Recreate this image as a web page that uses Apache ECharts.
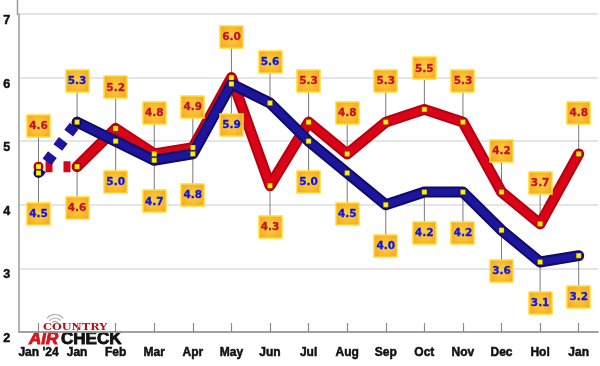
<!DOCTYPE html>
<html>
<head>
<meta charset="utf-8">
<script src="https://cdn.jsdelivr.net/npm/echarts@6/dist/echarts.min.js"></script>
<style>
html,body{margin:0;padding:0;background:#fff;}
#chart{width:600px;height:366px;}
</style>
</head>
<body>
<div id="chart"></div>
<script>
const categories = ["Jan '24","Jan","Feb","Mar","Apr","May","Jun","Jul","Aug","Sep","Oct","Nov","Dec","Hol","Jan"];
const redValues  = [4.6,4.6,5.2,4.8,4.9,6.0,4.3,5.3,4.8,5.3,5.5,5.3,4.2,3.7,4.8];
const blueValues = [4.5,5.3,5.0,4.7,4.8,5.9,5.6,5.0,4.5,4.0,4.2,4.2,3.6,3.1,3.2];
// label side: -1 above the point, 1 below
const redLabelSide  = [-1,1,-1,-1,-1,-1,1,-1,-1,-1,-1,-1,-1,-1,-1];
const blueLabelSide = [1,-1,1,1,1,1,-1,1,1,1,1,1,1,1,1];
const yMin = 2, yMax = 7, yStep = 1;

const RED = '#b6000f', RED_HI = '#d90418';
const BLUE = '#0e0b6c', BLUE_HI = '#1d169c';
const RED_TXT = '#c0122c', BLUE_TXT = '#0a16e8';
const LABEL_OFFSET = 41, BOX_W = 23, BOX_H = 22;

function labelData(values, sides){ return values.map((v,i)=>[i, v, sides[i]]); }
function firstSeg(values){ return values.map((v,i)=> i<=1 ? v : '-'); }
function restSeg(values){ return values.map((v,i)=> i===0 ? '-' : v); }

const boxFill = {type:'radial', x:0.5, y:0.5, r:0.72, colorStops:[
  {offset:0, color:'#fdd046'},{offset:0.5, color:'#fbbb2e'},{offset:1, color:'#f59c1a'}]};

function leaderRender(params, api){
  const p = api.coord([api.value(0), api.value(1)]);
  const s = api.value(2);
  const cy = p[1] + s*LABEL_OFFSET;
  return {type:'line', shape:{x1:p[0], y1:p[1], x2:p[0], y2:cy - s*BOX_H/2},
          style:{stroke:'#7a7a7a', lineWidth:1}};
}
function boxRenderer(color){
  return function(params, api){
    const v = api.value(1);
    const p = api.coord([api.value(0), v]);
    const s = api.value(2);
    const cy = p[1] + s*LABEL_OFFSET;
    return {type:'group', children:[
      {type:'rect', shape:{x:Math.round(p[0]-BOX_W/2), y:Math.round(cy-BOX_H/2), width:BOX_W, height:BOX_H},
       style:{fill:boxFill, stroke:'#ffdc34', lineWidth:1.5}},
      {type:'text', style:{text:v.toFixed(1), x:p[0], y:cy+0.5, align:'center', verticalAlign:'middle',
        fill:color, stroke:color, lineWidth:0.3, fontSize:10.5, fontWeight:'bold', fontFamily:'"DejaVu Sans", Verdana, sans-serif'}},
      {type:'rect', shape:{x:p[0]-2.5, y:p[1]-2.5, width:5, height:5},
       style:{fill:'#fff200', stroke:'rgba(90,70,0,0.45)', lineWidth:0.6}}
    ]};
  };
}

const tube = (color, w)=>({color:color, width:w, cap:'round', join:'round'});

const chart = echarts.init(document.getElementById('chart'), null, {renderer:'canvas'});
chart.setOption({
  animation:false,
  backgroundColor:'#fff',
  grid:{left:17, right:2, top:14, bottom:34, containLabel:false},
  xAxis:{type:'category', data:categories, boundaryGap:true,
    axisLine:{lineStyle:{color:'#8a8a8a', width:1.5}},
    axisTick:{show:true, inside:true, length:9, alignWithLabel:true, lineStyle:{color:'#8a8a8a', width:1.2}},
    axisLabel:{interval:0, margin:15, color:'#111', fontSize:12, fontWeight:'bold',
      textBorderColor:'#111', textBorderWidth:0.5,
      fontFamily:'"Liberation Sans", Arial, sans-serif'},
    splitLine:{show:false}},
  yAxis:{type:'value', min:yMin, max:yMax, interval:yStep,
    axisLine:{show:true, lineStyle:{color:'#9a9a9a', width:1.5}},
    axisTick:{show:false},
    axisLabel:{margin:9, color:'#111', fontSize:12.5, fontWeight:'bold', verticalAlign:'top',
      textBorderColor:'#111', textBorderWidth:0.5,
      fontFamily:'"Liberation Sans", Arial, sans-serif'},
    splitLine:{lineStyle:{color:'#dcdcdc', width:1.5}}},
  graphic:[
    {type:'line', z:1, shape:{x1:17.5, y1:0, x2:17.5, y2:15}, style:{stroke:'#9a9a9a', lineWidth:1.5}},
    {type:'group', z:100, children:[
      {type:'rect', shape:{x:24, y:312, width:101, height:22}, style:{fill:'#fff'}},
      {type:'arc', shape:{cx:55, cy:325, r:3.5, startAngle:-Math.PI/2-0.9, endAngle:-Math.PI/2+0.9}, style:{stroke:'#a8a8a8', lineWidth:1.1, fill:null}},
      {type:'arc', shape:{cx:55, cy:325, r:7, startAngle:-Math.PI/2-0.9, endAngle:-Math.PI/2+0.9}, style:{stroke:'#a8a8a8', lineWidth:1.1, fill:null}},
      {type:'arc', shape:{cx:55, cy:325, r:10.5, startAngle:-Math.PI/2-0.9, endAngle:-Math.PI/2+0.9}, style:{stroke:'#a8a8a8', lineWidth:1.1, fill:null}},
      {type:'text', x:43, y:327.5, scaleX:1.25, style:{text:'COUNTRY', x:0, y:0, align:'left', verticalAlign:'middle',
        fill:'#b3121c', font:'bold 9px "DejaVu Serif", serif'}},
      {type:'text', style:{text:'AIR', x:29, y:339.5, align:'left', verticalAlign:'middle',
        fill:'#d8141e', stroke:'#d8141e', lineWidth:0.9, font:'italic bold 17px "Liberation Sans", Arial, sans-serif'}},
      {type:'text', style:{text:'CHECK', x:61, y:339.5, align:'left', verticalAlign:'middle',
        fill:'#111', stroke:'#111', lineWidth:0.9, font:'bold 17px "Liberation Sans", Arial, sans-serif'}}
    ]}
  ],
  series:[
    {type:'custom', name:'redLeaders', z:1, renderItem:leaderRender, data:labelData(redValues, redLabelSide), silent:true},
    {type:'custom', name:'blueLeaders', z:1, renderItem:leaderRender, data:labelData(blueValues, blueLabelSide), silent:true},
    {type:'line', name:'redFirst', z:2, data:firstSeg(redValues), symbol:'circle', symbolSize:10,
      itemStyle:{color:RED}, showSymbol:true,
      lineStyle:{color:RED_HI, width:11, cap:'butt', type:[7,11], dashOffset:11}},
    {type:'line', name:'red', z:2, data:restSeg(redValues), showSymbol:false, lineStyle:tube(RED, 11)},
    {type:'line', name:'redHi', z:2, data:restSeg(redValues), showSymbol:false, lineStyle:tube(RED_HI, 7)},
    {type:'line', name:'blueFirst', z:2, data:firstSeg(blueValues), symbol:'circle', symbolSize:10,
      itemStyle:{color:BLUE}, showSymbol:true,
      lineStyle:{color:BLUE_HI, width:11, cap:'butt', type:[9,9], dashOffset:4}},
    {type:'line', name:'blue', z:2, data:restSeg(blueValues), showSymbol:false, lineStyle:tube(BLUE, 11)},
    {type:'line', name:'blueHi', z:2, data:restSeg(blueValues), showSymbol:false, lineStyle:tube(BLUE_HI, 7)},
    {type:'custom', name:'redLabels', z:10, renderItem:boxRenderer(RED_TXT), data:labelData(redValues, redLabelSide), silent:true},
    {type:'custom', name:'blueLabels', z:10, renderItem:boxRenderer(BLUE_TXT), data:labelData(blueValues, blueLabelSide), silent:true}
  ]
});
</script>
</body>
</html>
